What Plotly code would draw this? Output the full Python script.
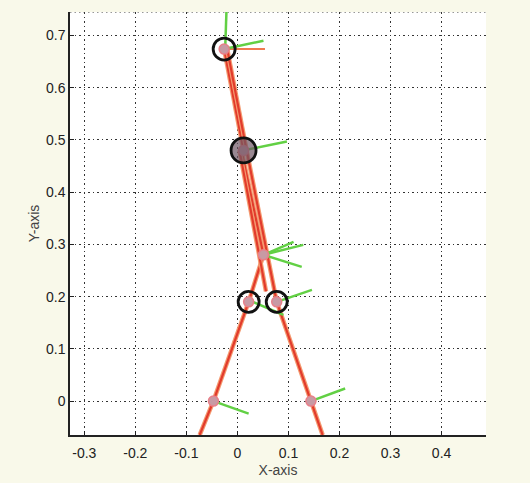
import plotly.graph_objects as go

# Joint positions (x, y) of the two-leg stick model
torso_x, torso_y = -0.026, 0.674
hip_x, hip_y = 0.012, 0.48
knee_x, knee_y = 0.051, 0.28
ankle_l_x, ankle_l_y = 0.022, 0.19
ankle_r_x, ankle_r_y = 0.077, 0.19
toe_l_x, toe_l_y = -0.047, 0.0
toe_r_x, toe_r_y = 0.144, 0.0

# Red link polylines
link_torso_x = [-0.026, 0.012]
link_torso_y = [0.674, 0.48]
link_torso2_x = [-0.020, 0.018]
link_torso2_y = [0.674, 0.48]
leg_left_x = [0.008, 0.051, 0.022, -0.047, -0.074]
leg_left_y = [0.48, 0.28, 0.19, 0.0, -0.065]
leg_right_x = [0.018, 0.060, 0.077, 0.144, 0.167]
leg_right_y = [0.48, 0.27, 0.19, 0.0, -0.065]
leg_mid_x = [0.004, 0.056]
leg_mid_y = [0.48, 0.21]
frame_orange_x = [-0.026, 0.054]
frame_orange_y = [0.674, 0.674]

# Green direction segments (start, end)
green_x0 = [-0.024, -0.026, 0.012, 0.051, 0.051, 0.051, 0.077, 0.030, -0.047, 0.144]
green_y0 = [0.674, 0.674, 0.48, 0.28, 0.28, 0.28, 0.19, 0.19, 0.0, 0.0]
green_x1 = [-0.021, 0.051, 0.097, 0.129, 0.110, 0.126, 0.146, 0.090, 0.022, 0.211]
green_y1 = [0.76, 0.690, 0.497, 0.299, 0.305, 0.257, 0.213, 0.165, -0.024, 0.024]

# Axis ticks
x_ticks = [-0.3, -0.2, -0.1, 0, 0.1, 0.2, 0.3, 0.4]
x_tick_text = ["-0.3", "-0.2", "-0.1", "0", "0.1", "0.2", "0.3", "0.4"]
y_ticks = [0, 0.1, 0.2, 0.3, 0.4, 0.5, 0.6, 0.7]
y_tick_text = ["0", "0.1", "0.2", "0.3", "0.4", "0.5", "0.6", "0.7"]

RED = "#e23b2c"
GREEN = "#62d044"

fig = go.Figure()

for xs, ys in [(link_torso_x, link_torso_y), (link_torso2_x, link_torso2_y),
               (leg_left_x, leg_left_y), (leg_right_x, leg_right_y),
               (leg_mid_x, leg_mid_y)]:
    fig.add_trace(go.Scatter(x=xs, y=ys, mode="lines",
                             line=dict(color="#f49a70", width=4.5),
                             hoverinfo="skip", showlegend=False))
    fig.add_trace(go.Scatter(x=xs, y=ys, mode="lines",
                             line=dict(color=RED, width=2.2),
                             hoverinfo="skip", showlegend=False))

fig.add_trace(go.Scatter(x=frame_orange_x, y=frame_orange_y, mode="lines",
                         line=dict(color="#f07a50", width=2),
                         hoverinfo="skip", showlegend=False))

for i in range(len(green_x0)):
    fig.add_trace(go.Scatter(x=[green_x0[i], green_x1[i]],
                             y=[green_y0[i], green_y1[i]], mode="lines",
                             line=dict(color=GREEN, width=2.5),
                             hoverinfo="skip", showlegend=False))

# Small pink joint markers
all_x = [torso_x, hip_x, knee_x, ankle_l_x, ankle_r_x, toe_l_x, toe_r_x]
all_y = [torso_y, hip_y, knee_y, ankle_l_y, ankle_r_y, toe_l_y, toe_r_y]
fig.add_trace(go.Scatter(x=all_x, y=all_y, mode="markers",
                         marker=dict(size=10, color="#c89aa4",
                                     line=dict(color="#e8808a", width=1.5)),
                         hoverinfo="skip", showlegend=False))

# Black rings around the main joints (pixel-sized circles anchored at the joints)
ring_x = [torso_x, hip_x, ankle_l_x, ankle_r_x]
ring_y = [torso_y, hip_y, ankle_l_y, ankle_r_y]
ring_r = [11, 12.5, 10.5, 10.5]
ring_fill = ["rgba(0,0,0,0)", "rgba(110,85,100,0.7)", "rgba(0,0,0,0)", "rgba(0,0,0,0)"]
for cx, cy, r, fc in zip(ring_x, ring_y, ring_r, ring_fill):
    fig.add_shape(type="circle", xref="x", yref="y",
                  xsizemode="pixel", ysizemode="pixel",
                  xanchor=cx, yanchor=cy, x0=-r, x1=r, y0=-r, y1=r,
                  line=dict(color="#111111", width=2.8), fillcolor=fc, layer="above")

x_range = [-0.328, 0.487]
y_range = [-0.065, 0.745]

# Dotted top border of the axes box
fig.add_shape(type="line", x0=x_range[0], x1=x_range[1], y0=y_range[1], y1=y_range[1],
              line=dict(color="#333333", width=1.2, dash="1.5px,3px"), layer="below")

grid_style = dict(showgrid=True, gridcolor="#333333", griddash="1.5px,3px", gridwidth=1.2,
                  zeroline=False, showline=True, linecolor="#222222", linewidth=1.5,
                  ticks="inside", ticklen=4, tickcolor="#222222", automargin=False,
                  tickfont=dict(size=14, color="#222222"))

fig.update_layout(
    width=530, height=483,
    margin=dict(l=70, r=44, t=12, b=48),
    paper_bgcolor="#f9f9ea",
    plot_bgcolor="#ffffff",
    font=dict(family="Liberation Sans, Arial, sans-serif", size=14, color="#222222"),
    xaxis=dict(range=x_range, tickvals=x_ticks, ticktext=x_tick_text, ticklabelstandoff=4,
               title=dict(text="X-axis", font=dict(size=14, color="#444444"), standoff=6),
               **grid_style),
    yaxis=dict(range=y_range, tickvals=y_ticks, ticktext=y_tick_text,
               title=dict(text="Y-axis", font=dict(size=14, color="#444444"), standoff=3),
               **grid_style),
)

fig.write_html("out.html")
